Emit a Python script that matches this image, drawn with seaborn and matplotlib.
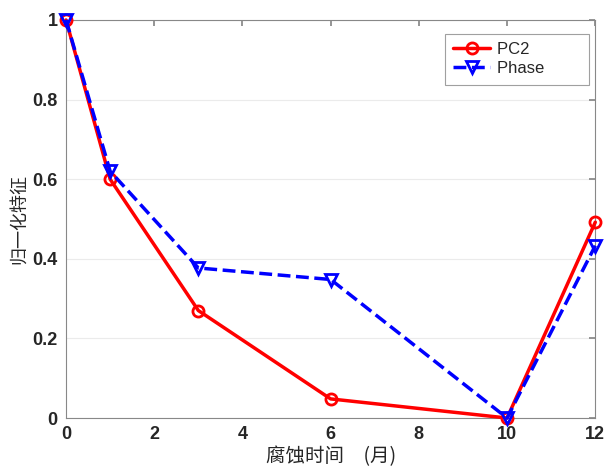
import pandas as pd
import matplotlib.pyplot as plt
import seaborn as sns

# Data
months = [0, 1, 3, 6, 10, 12]
pc2 = [1.0, 0.60, 0.27, 0.048, 0.0, 0.492]
phase = [1.0, 0.62, 0.377, 0.348, 0.0, 0.433]

sns.set_theme(style='white')
plt.rcParams['font.family'] = ['Liberation Sans', 'Noto Sans CJK SC', 'DejaVu Sans']

df = pd.DataFrame({'month': months * 2,
                   'value': pc2 + phase,
                   'series': ['PC2'] * len(months) + ['Phase'] * len(months)})

fig = plt.figure(figsize=(6.08, 4.69), dpi=100)
ax = fig.add_axes([0.1086, 0.1087, 0.8705, 0.8487])

sns.lineplot(data=df[df['series'] == 'PC2'], x='month', y='value', ax=ax,
             color='#ff0000', linewidth=2.5, marker='o', markersize=8,
             markerfacecolor='none', markeredgecolor='#ff0000', markeredgewidth=2,
             label='PC2', clip_on=False, zorder=3)
sns.lineplot(data=df[df['series'] == 'Phase'], x='month', y='value', ax=ax,
             color='#0000ff', linewidth=2.5, linestyle='--', marker='v', markersize=9,
             markerfacecolor='none', markeredgecolor='#0000ff', markeredgewidth=2,
             label='Phase', clip_on=False, zorder=4, dashes=(4, 2.5))

ax.set_xlim(0, 12)
ax.set_ylim(0, 1)
ax.set_xticks([0, 2, 4, 6, 8, 10, 12])
ax.set_yticks([0, 0.2, 0.4, 0.6, 0.8, 1])
ax.set_yticklabels(['0', '0.2', '0.4', '0.6', '0.8', '1'])
ax.yaxis.grid(True, color='#ebebeb', linewidth=0.8)
ax.set_axisbelow(True)
for s in ax.spines.values():
    s.set_color('#888888')
    s.set_linewidth(0.8)
ax.tick_params(direction='in', top=True, right=True, length=4, color='#888888',
               labelsize=13, pad=6)
for lab in ax.get_xticklabels() + ax.get_yticklabels():
    lab.set_fontweight('bold')
    lab.set_color('#262626')

ax.set_xlabel('腐蚀时间\u3000(月)', fontsize=14, family=['Noto Sans CJK SC', 'DejaVu Sans'],
              color='#262626', labelpad=2)
ax.set_ylabel('归一化特征', fontsize=13, family=['Noto Sans CJK SC', 'DejaVu Sans'],
              color='#262626', labelpad=3)

leg = ax.legend(loc='upper right', bbox_to_anchor=(0.998, 0.978), fontsize=12,
                frameon=True, fancybox=False, handlelength=2.2, borderpad=0.5,
                labelspacing=0.25, borderaxespad=0.3, handletextpad=0.4)
leg.get_frame().set_edgecolor('#888888')
leg.get_frame().set_linewidth(0.8)
for t in leg.get_texts():
    t.set_text(t.get_text() + '        ')

fig.savefig('out.png', dpi=100)
